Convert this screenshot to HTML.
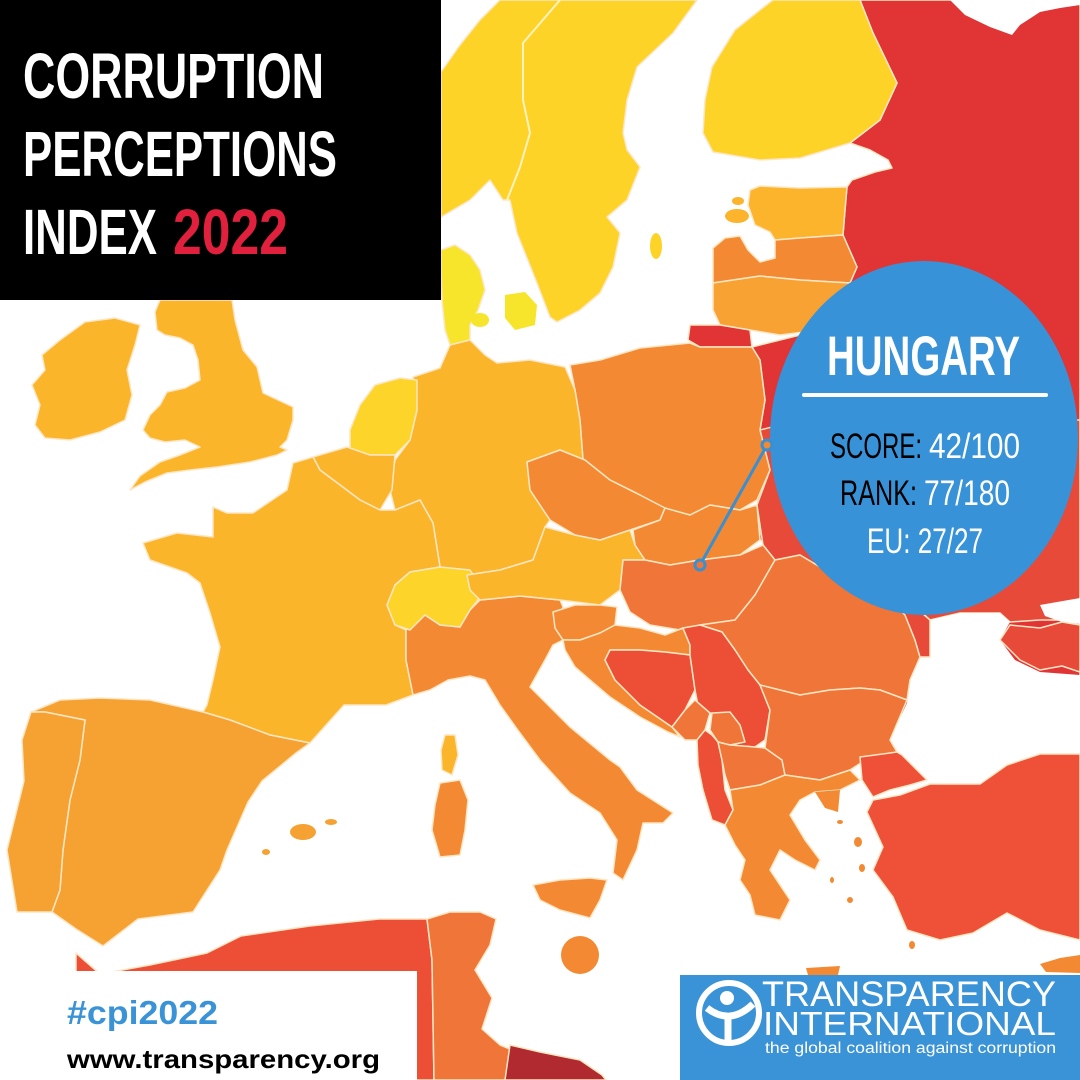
<!DOCTYPE html>
<html><head><meta charset="utf-8"><style>
html,body{margin:0;padding:0;background:#fff;}
svg{display:block;}
</style></head><body>
<svg width="1080" height="1080" viewBox="0 0 1080 1080" xmlns="http://www.w3.org/2000/svg">
<rect width="1080" height="1080" fill="#fff"/>
<g stroke="#fde6c4" stroke-width="1.5" stroke-linejoin="round">
<!-- Russia -->
<polygon fill="#e03435" points="860,0 1080,0 1080,755 905,755 900,700 905,640 880,605 800,560 760,540 757,490 770,470 760,430 765,400 760,360 752,347 780,340 820,330 840,310 850,283 857,267 843,235 845,210 847,187 852,180 875,172 892,168 888,160 870,150 850,143 880,120 897,83 873,33"/>
<polygon fill="#fff" stroke="none" points="950,0 965,15 990,27 1012,35 1020,25 1040,12 1060,8 1080,5 1080,0"/>
<!-- Ukraine -->
<polygon fill="#e84a39" points="760,430 800,420 1080,420 1080,620 1040,620 1010,622 1000,613 960,613 930,620 905,598 890,600 850,585 800,555 775,560 763,545 757,505 770,470"/>
<!-- Black Sea -->
<polygon fill="#fff" stroke="none" points="930,620 960,613 1000,613 1010,622 1000,640 1015,660 1040,672 1080,675 1080,755 1040,755 1007,765 980,782 930,782 900,753 890,740 907,703 910,680 920,657"/>
<polygon fill="#fff" stroke="none" points="1040,605 1080,598 1080,624 1062,622 1045,616"/>
<polygon fill="#e84a39" points="1000,640 1010,625 1040,628 1062,622 1080,625 1080,672 1062,666 1040,670 1020,660"/>
<!-- Finland -->
<polygon fill="#fdd327" points="773,0 860,0 873,33 897,83 880,120 850,143 800,158 760,160 713,152 703,133 705,100 712,67 735,30 760,10"/>
<!-- Sweden / Norway -->
<polygon fill="#fdd327" points="500,0 697,0 673,33 637,67 627,100 623,133 627,150 640,167 627,200 607,217 620,233 613,267 600,293 580,310 557,322 550,317 537,283 517,233 510,200 503,200 490,180 470,200 441,217 441,72 460,45 480,20"/>
<polyline fill="none" stroke="#fff2c0" stroke-width="2" points="560,0 523,43 523,100 530,133 520,167 507,200"/>
<ellipse cx="656" cy="246" rx="6" ry="13" fill="#fdd327" stroke="none"/>
<!-- Denmark -->
<polygon fill="#f7e52c" points="441,250 455,245 470,255 480,270 485,290 478,310 470,325 470,340 450,345 445,330 442,300 441,270"/>
<ellipse cx="480" cy="320" rx="9" ry="7" fill="#f7e52c" stroke="none"/>
<polygon fill="#f7e52c" stroke="none" points="505,295 525,292 537,305 535,325 515,330 505,318"/>
<!-- Baltics -->
<polygon fill="#fbb42b" points="750,190 760,186 800,188 847,187 845,210 843,235 800,238 775,240 770,232 755,225 748,205"/>
<ellipse cx="737" cy="216" rx="12" ry="7" fill="#fbb42b" stroke="none"/>
<ellipse cx="738" cy="201" rx="6" ry="4" fill="#fbb42b" stroke="none"/>
<polygon fill="#f38a33" points="713,248 725,238 740,236 748,250 760,262 775,258 775,240 800,238 843,235 857,267 850,283 800,280 760,276 713,283"/>
<polygon fill="#f7a233" points="713,283 760,276 800,280 850,283 840,310 820,330 780,335 750,330 720,325 713,310"/>
<polygon fill="#e03435" points="690,325 720,325 750,330 752,347 700,347 688,340"/>
<!-- Poland -->
<polygon fill="#f38a33" points="570,365 600,360 640,348 690,343 700,347 752,347 760,360 765,400 760,430 770,470 757,500 740,510 710,505 690,515 660,508 640,495 610,480 590,470 583,460 580,420 575,390"/>
<!-- Germany -->
<polygon fill="#fbb52b" points="413,377 440,368 450,345 470,340 485,355 497,363 530,360 565,367 575,390 580,420 583,460 560,450 527,462 530,490 550,520 545,527 533,560 500,570 467,575 440,567 433,523 420,500 395,510 390,490 395,460 410,440 417,410"/>
<!-- Netherlands -->
<polygon fill="#fdd52a" points="350,430 360,405 375,385 400,378 417,380 417,410 410,440 395,455 370,455 350,450"/>
<!-- Belgium -->
<polygon fill="#fbb52b" points="313,457 347,447 370,455 395,455 392,490 380,510 360,500 340,485 320,470"/>
<!-- France -->
<polygon fill="#fbb52b" points="143,543 177,533 213,537 213,507 227,513 253,513 287,490 293,463 313,457 320,470 340,485 360,500 380,510 395,510 420,500 433,523 440,567 410,572 395,585 387,605 395,625 406,630 406,660 413,695 386,705 344,705 310,743 270,735 230,720 203,712 207,705 213,680 220,647 210,613 200,583 187,573 150,560"/>
<!-- Italy -->
<polygon fill="#f38a33" points="406,630 425,615 440,625 460,627 470,610 480,600 520,596 560,600 563,607 555,628 563,640 553,645 545,660 530,687 570,727 610,760 620,767 637,790 673,813 663,823 643,823 637,850 623,880 613,873 617,840 600,813 570,793 540,760 517,729 500,705 485,680 470,676 448,680 430,690 413,695 406,660"/>
<polygon fill="#f38a33" points="533,885 560,880 590,878 607,880 600,900 590,918 560,910 540,900"/>
<polygon fill="#f38a33" points="440,783 460,780 468,800 465,830 460,855 440,857 432,830 435,805"/>
<polygon fill="#fbb52b" points="445,735 455,735 458,755 452,775 442,770 441,750"/>
<!-- Switzerland -->
<polygon fill="#fdd52a" points="387,605 395,585 410,572 440,567 470,570 480,585 478,600 470,610 460,627 440,625 425,615 410,630 395,625"/>
<!-- Austria -->
<polygon fill="#fbb52b" points="467,575 500,570 533,560 545,527 575,535 600,540 630,530 635,545 645,560 623,560 620,590 600,605 560,600 520,596 480,600 470,590"/>
<!-- Czechia -->
<polygon fill="#f38a33" points="527,462 560,450 585,460 610,480 640,495 665,508 660,520 630,530 600,540 575,535 550,520 530,490"/>
<!-- Slovakia -->
<polygon fill="#f38a33" points="633,530 660,520 665,508 690,515 710,505 740,510 757,505 760,540 740,555 700,560 670,565 645,560 635,545"/>
<!-- Hungary -->
<polygon fill="#ef7538" points="623,560 645,560 670,565 700,560 740,555 763,545 775,560 755,595 735,620 700,625 680,630 650,625 630,612 620,590"/>
<!-- Romania -->
<polygon fill="#ef7538" points="735,620 755,595 775,560 800,555 850,585 890,600 905,615 915,640 920,657 910,680 907,700 880,690 860,688 830,690 800,695 760,685 748,670 735,650 722,632 700,625"/>
<polygon fill="#e84a39" points="890,600 905,598 930,620 930,657 920,657 915,640 905,615"/>
<!-- Slovenia -->
<polygon fill="#f38a33" points="553,612 575,605 600,605 617,607 615,625 600,633 580,640 563,640 555,628"/>
<!-- Croatia -->
<polygon fill="#f38a33" points="563,640 580,640 600,633 615,625 640,628 665,635 683,628 690,645 690,655 665,652 640,650 610,650 605,660 615,680 640,705 672,727 680,737 668,732 640,717 610,697 590,680 575,667 565,650"/>
<!-- Bosnia -->
<polygon fill="#ec4e36" points="610,650 640,650 665,652 690,655 695,690 685,710 672,727 640,705 615,680 605,660"/>
<!-- Serbia -->
<polygon fill="#ec4e36" points="683,628 700,625 722,632 735,650 748,670 760,685 770,710 765,740 755,747 730,745 718,720 712,713 700,715 695,690 690,655 690,645"/>
<!-- Montenegro -->
<polygon fill="#ef7538" points="672,727 685,710 695,700 710,713 705,730 697,740 685,740"/>
<!-- Kosovo -->
<polygon fill="#ef7538" points="712,713 730,712 740,725 745,742 730,745 718,742 710,730"/>
<!-- Albania -->
<polygon fill="#ec4e36" points="697,740 705,730 712,735 718,742 722,760 725,790 733,810 725,825 712,820 703,790 698,765"/>
<!-- North Macedonia -->
<polygon fill="#ef7538" points="718,742 730,745 755,747 765,748 782,760 785,775 760,785 730,790 725,775 722,760"/>
<!-- Bulgaria -->
<polygon fill="#ef7538" points="760,685 800,695 830,690 860,688 880,690 907,700 890,740 897,752 870,757 850,770 820,780 785,775 782,760 765,748 770,710"/>
<!-- Greece -->
<polygon fill="#f38a33" points="725,825 733,810 730,790 760,785 785,775 820,780 850,770 860,780 840,790 815,792 800,800 790,815 805,840 820,860 815,870 795,860 780,850 770,870 790,900 780,920 755,915 750,895 740,880 745,860 735,845"/>
<polygon fill="#f38a33" stroke="none" points="815,792 840,790 838,812 825,808"/>
<polygon fill="#f38a33" stroke="none" points="806,968 840,966 838,975 808,975"/>
<g fill="#f38a33" stroke="none">
<ellipse cx="858" cy="842" rx="4" ry="5"/>
<ellipse cx="862" cy="868" rx="3" ry="4"/>
<ellipse cx="850" cy="900" rx="3" ry="3"/>
<ellipse cx="832" cy="880" rx="2" ry="3"/>
<ellipse cx="840" cy="822" rx="3" ry="2"/>
<ellipse cx="912" cy="945" rx="3" ry="4"/>
</g>
<!-- Turkey -->
<polygon fill="#ee5038" points="860,757 897,752 902,755 927,780 910,785 890,790 873,797 862,780"/>
<polygon fill="#ee5038" points="873,800 900,795 930,784 980,784 1007,765 1040,754 1080,754 1080,940 1040,930 1007,913 973,933 940,940 907,930 893,897 873,870 883,847 867,812"/>
<polygon fill="#f38a33" stroke="none" points="1040,964 1060,958 1080,955 1080,973 1046,972"/>
<!-- Spain / Portugal -->
<polygon fill="#f6a233" points="31,712 60,700 100,698 150,700 203,712 230,720 270,735 310,743 296,753 262,781 248,802 227,850 220,870 193,912 138,919 103,946 76,929 52,912 60,890 63,850 70,800 80,760 85,720 45,712"/>
<polygon fill="#f6a233" points="31,712 45,712 85,720 80,760 70,800 63,850 60,890 52,912 17,912 7,850 24,781 22,740"/>
<ellipse cx="303" cy="832" rx="13" ry="8" fill="#f6a233" stroke="none"/>
<ellipse cx="331" cy="822" rx="6" ry="3" fill="#f6a233" stroke="none"/>
<ellipse cx="266" cy="852" rx="4" ry="3" fill="#f6a233" stroke="none"/>
<!-- UK & Ireland -->
<polygon fill="#fbb52b" points="160,300 232,300 235,320 243,350 257,367 263,393 293,407 293,420 287,440 280,447 287,450 277,455 250,462 217,467 190,470 167,473 145,482 130,490 140,476 160,462 180,455 200,447 185,440 165,442 150,438 143,430 150,415 160,405 167,392 185,388 200,380 198,360 193,345 180,338 165,335 157,330 155,312"/>
<polygon fill="#fbb52b" points="60,340 85,322 115,318 140,325 135,345 127,370 132,395 125,420 100,432 70,440 45,438 35,425 40,405 32,385 45,370 42,355"/>
<!-- North Africa -->
<polygon fill="#ec4e36" points="76,953 100,974 150,965 207,953 241,936 310,926 379,919 427,919 432,960 434,1080 76,1080"/>
<polygon fill="#ef7538" points="427,919 450,912 480,912 496,919 490,945 475,970 492,998 482,1029 500,1045 512,1050 512,1080 434,1080 432,960"/>
<polygon fill="#b02a2f" points="510,1045 540,1052 580,1060 602,1075 606,1080 505,1080"/>
<circle cx="580" cy="955" r="19" fill="#f38a33" stroke="none"/>
</g>

<!-- Title box -->
<rect x="0" y="0" width="441" height="300" fill="#000"/>
<g font-family="Liberation Sans, sans-serif" font-weight="bold" font-size="64" fill="#fff">
<text x="23" y="98" textLength="301" lengthAdjust="spacingAndGlyphs">CORRUPTION</text>
<text x="23" y="176" textLength="314" lengthAdjust="spacingAndGlyphs">PERCEPTIONS</text>
<text x="23" y="254" textLength="134" lengthAdjust="spacingAndGlyphs">INDEX</text>
<text x="173" y="254" textLength="115" lengthAdjust="spacingAndGlyphs" fill="#e0203c">2022</text>
</g>

<!-- Hungary circle -->
<ellipse cx="924" cy="438" rx="154" ry="177" fill="#3892d8"/>
<text x="827" y="375" font-family="Liberation Sans, sans-serif" font-weight="bold" font-size="56" fill="#fff" textLength="193" lengthAdjust="spacingAndGlyphs">HUNGARY</text>
<rect x="802" y="393" width="246" height="4" rx="2" fill="#fff"/>
<g font-family="Liberation Sans, sans-serif" font-size="35">
<text x="830" y="458" fill="#000" textLength="92" lengthAdjust="spacingAndGlyphs">SCORE:</text>
<text x="929" y="458" fill="#fff" textLength="91" lengthAdjust="spacingAndGlyphs">42/100</text>
<text x="840" y="505" fill="#000" textLength="77" lengthAdjust="spacingAndGlyphs">RANK:</text>
<text x="924" y="505" fill="#fff" textLength="86" lengthAdjust="spacingAndGlyphs">77/180</text>
<text x="867" y="553" fill="#fff" textLength="116" lengthAdjust="spacingAndGlyphs">EU: 27/27</text>
</g>
<line x1="767" y1="445" x2="700" y2="565" stroke="#3a8fd0" stroke-width="3"/>
<circle cx="767" cy="445" r="5" fill="#f38a33" stroke="#3a8fd0" stroke-width="3"/>
<circle cx="700" cy="565" r="5" fill="#ef7538" stroke="#3a8fd0" stroke-width="3"/>

<!-- Bottom left box -->
<rect x="0" y="971" width="417" height="109" fill="#fff"/>
<text x="67" y="1024" font-family="Liberation Sans, sans-serif" font-weight="bold" font-size="33" fill="#3a93d6" textLength="151" lengthAdjust="spacingAndGlyphs">#cpi2022</text>
<text x="67" y="1068" font-family="Liberation Sans, sans-serif" font-weight="bold" font-size="26" fill="#000" textLength="313" lengthAdjust="spacingAndGlyphs">www.transparency.org</text>

<!-- TI logo box -->
<rect x="680" y="975" width="400" height="105" fill="#3a93d6"/>
<circle cx="729" cy="1013" r="30" fill="none" stroke="#fff" stroke-width="6"/>
<circle cx="727" cy="998" r="7" fill="#fff"/>
<path d="M707 1008 Q730 1026 753 1004" fill="none" stroke="#fff" stroke-width="7"/>
<line x1="728" y1="1018" x2="728" y2="1043" stroke="#fff" stroke-width="7"/>
<g font-family="Liberation Sans, sans-serif" fill="#fff">
<text x="762" y="1006" font-size="35" textLength="294" lengthAdjust="spacingAndGlyphs">TRANSPARENCY</text>
<text x="763" y="1035" font-size="33" textLength="293" lengthAdjust="spacingAndGlyphs">INTERNATIONAL</text>
<text x="765" y="1053" font-size="15.5" textLength="291" lengthAdjust="spacingAndGlyphs">the global coalition against corruption</text>
</g>
</svg>
</body></html>
